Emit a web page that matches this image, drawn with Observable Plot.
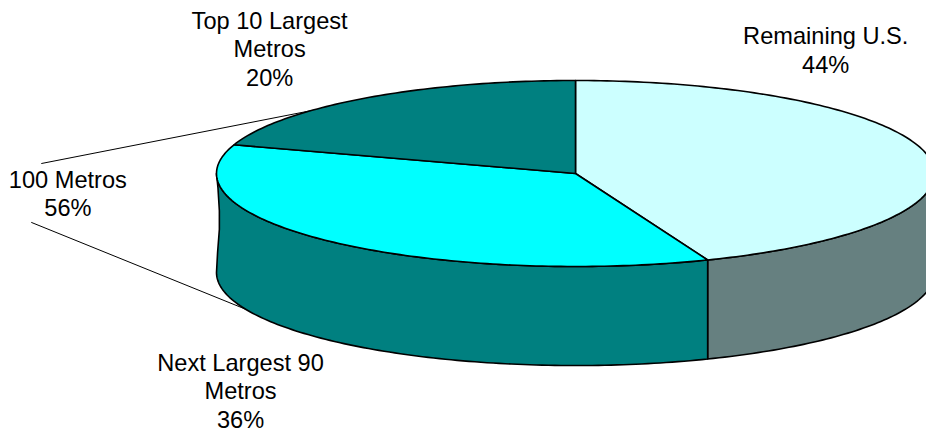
<!DOCTYPE html>
<html>
<head>
<meta charset="utf-8">
<script src="https://cdn.jsdelivr.net/npm/d3@7"></script>
<script src="https://cdn.jsdelivr.net/npm/@observablehq/plot@0.6"></script>
<style>
  html, body { margin: 0; padding: 0; background: #fff; overflow: hidden; }
  svg { display: block; }
</style>
</head>
<body>
<div id="chart"></div>
<script>
// Population shares, clockwise from twelve o'clock.
const segmentNames = ["Remaining U.S.", "Next Largest 90\nMetros", "Top 10 Largest\nMetros"];
const segmentShares = [44, 36, 20];
const topColors = ["#ccffff", "#00ffff", "#008080"];
const wallColors = ["#668080", "#008080", "#008080"];

// Bracket label that groups the two metro segments.
const groupName = "100 Metros";
const groupShare = 56;

// Label anchors in pie units (1 = the rim of the disc).
const labelX = [0.697, -0.933, -0.852];
const labelY = [-1.335, 2.33, -1.35];
const groupLabelX = -1.414;
const groupLabelY = 0.21;

// Leader lines run from beside the group label to a rim angle (degrees clockwise from the top).
const leaderStartX = [-1.487, -1.515];
const leaderStartY = [-0.108, 0.527];
const leaderRimAngle = [312.4, 246.8];

// Thickness of the disc in pie units, and the slight inward bow of its left edge.
const depth = 1.065;
const leftEdgeBowX = [-0.996, -0.992, -0.992, -0.997];
const leftEdgeBowY = [0.15, 0.4, 0.6, 0.85];

const rimPoint = (deg, drop = 0) => {
  const a = deg * Math.PI / 180;
  return {x: Math.sin(a), y: -Math.cos(a) + drop};
};
const arc = (from, to, drop = 0) => {
  const n = Math.max(1, Math.ceil(Math.abs(to - from)));
  return d3.range(n + 1).map(i => rimPoint(from + (to - from) * i / n, drop));
};

// Cumulative angles for every segment.
let running = 0;
const segments = segmentShares.map((share, i) => {
  const start = running * 3.6;
  running += share;
  return {name: segmentNames[i], share, start, end: running * 3.6, top: topColors[i], wall: wallColors[i]};
});

const topShape = s => [{x: 0, y: 0}, ...arc(s.start, s.end), {x: 0, y: 0}];

// Only the front half of the disc (90 to 270 degrees) shows a wall.
const wallShape = s => {
  const from = Math.max(s.start, 90);
  const to = Math.min(s.end, 270);
  if (to <= from) return null;
  const upper = arc(from, to);
  const lower = arc(to, from, depth);
  const edge = to === 270 ? leftEdgeBowX.map((x, i) => ({x, y: leftEdgeBowY[i]})) : [];
  return [...upper, ...edge, ...lower, upper[0]];
};

const shapeMark = (points, fill) => Plot.line(points, {
  x: "x", y: "y", fill, stroke: "#000", strokeWidth: 1.6, curve: "linear"
});

const leaders = leaderStartX.map((x, i) => {
  const end = rimPoint(leaderRimAngle[i], i === 1 ? depth : 0);
  return [{x, y: leaderStartY[i]}, end];
});

const labels = [
  ...segments.map((s, i) => ({x: labelX[i], y: labelY[i], text: `${s.name}\n${s.share}%`})),
  {x: groupLabelX, y: groupLabelY, text: `${groupName}\n${groupShare}%`}
];

const chart = Plot.plot({
  width: 926,
  height: 433,
  margin: 0,
  x: {domain: [-1, 1], range: [216, 934], axis: null},
  y: {domain: [-1, 1], range: [80, 266], axis: null},
  marks: [
    ...leaders.map(points => Plot.line(points, {x: "x", y: "y", stroke: "#000", strokeWidth: 1})),
    ...segments.map(s => wallShape(s)).map((pts, i) => pts && shapeMark(pts, segments[i].wall)),
    ...segments.map(s => shapeMark(topShape(s), s.top)),
    Plot.text(labels, {
      x: "x", y: "y", text: "text",
      fontFamily: "Liberation Sans, Arial, sans-serif",
      fontSize: 23.6,
      lineHeight: 1.21,
      fill: "#000",
      textAnchor: "middle",
      lineAnchor: "middle"
    })
  ]
});
document.getElementById("chart").appendChild(chart);
</script>
</body>
</html>
